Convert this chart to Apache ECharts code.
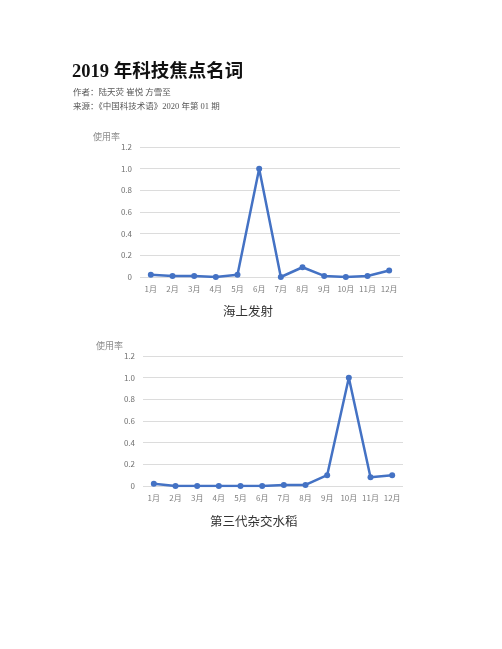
<!DOCTYPE html>
<html><head><meta charset="utf-8">
<script src="https://cdn.jsdelivr.net/npm/echarts@6/dist/echarts.min.js"></script>
<style>html,body{margin:0;padding:0;background:#fff;}#c{width:502px;height:649px;}</style>
</head><body><div id="c"></div>
<script>
var months = ['1月','2月','3月','4月','5月','6月','7月','8月','9月','10月','11月','12月'];
var seaLaunch = [0.02,0.01,0.01,0,0.02,1.0,0,0.09,0.01,0,0.01,0.06];
var hybridRice = [0.02,0,0,0,0,0,0.01,0.01,0.1,1.0,0.08,0.1];
var yTicks = {min:0, max:1.2, interval:0.2};
var titleText = '2019 年科技焦点名词';
var authorText = '作者：陆天荧 崔悦 方雪至';
var sourceText = '来源：《中国科技术语》2020 年第 01 期';
var captions = ['海上发射','第三代杂交水稻'];

var cjk = '"Liberation Serif","Noto Sans CJK SC",serif';
var sans = '"Noto Sans CJK SC","Liberation Sans",sans-serif';
var chart = echarts.init(document.getElementById('c'));

function xAxis(i){return {type:'category',gridIndex:i,data:months,boundaryGap:true,
  axisLine:{show:false},axisTick:{show:false},
  axisLabel:{color:'#7f7f7f',fontSize:8,fontFamily:sans,margin:8,interval:0}};}
function yAxis(i){return {type:'value',gridIndex:i,min:yTicks.min,max:yTicks.max,interval:yTicks.interval,
  name:'使用率',nameLocation:'end',nameGap:6,
  nameTextStyle:{color:'#8c8c8c',fontSize:9,fontFamily:sans,align:'right',padding:[0,20,0,0]},
  axisLine:{show:false},axisTick:{show:false},
  axisLabel:{color:'#6f6f6f',fontSize:8,fontFamily:sans,margin:8,
    formatter:function(v){return v===0?'0':v.toFixed(1);}},
  splitLine:{lineStyle:{color:'#dcdcdc',width:1}}};}
function line(i,d){return {type:'line',xAxisIndex:i,yAxisIndex:i,data:d,
  symbol:'circle',symbolSize:6,lineStyle:{color:'#4472C4',width:2.5},
  itemStyle:{color:'#4472C4'},animation:false};}

chart.setOption({
  backgroundColor:'#fff',
  title:[
    {text:titleText,left:72,top:63,padding:0,textStyle:{fontSize:18.5,fontWeight:'bold',color:'#111',fontFamily:cjk}},
    {text:authorText,left:73,top:89,padding:0,textStyle:{fontSize:8.5,fontWeight:'normal',color:'#555',fontFamily:cjk}},
    {text:sourceText,left:73,top:103,padding:0,textStyle:{fontSize:8.5,fontWeight:'normal',color:'#555',fontFamily:cjk}},
    {text:captions[0],left:223,top:306,padding:0,textStyle:{fontSize:12.5,fontWeight:'normal',color:'#333',fontFamily:cjk}},
    {text:captions[1],left:210,top:516,padding:0,textStyle:{fontSize:12.5,fontWeight:'normal',color:'#333',fontFamily:cjk}}
  ],
  grid:[
    {left:140,width:260,top:147,height:130},
    {left:143,width:260,top:356,height:130}
  ],
  xAxis:[xAxis(0),xAxis(1)],
  yAxis:[yAxis(0),yAxis(1)],
  series:[line(0,seaLaunch),line(1,hybridRice)]
});
</script></body></html>
